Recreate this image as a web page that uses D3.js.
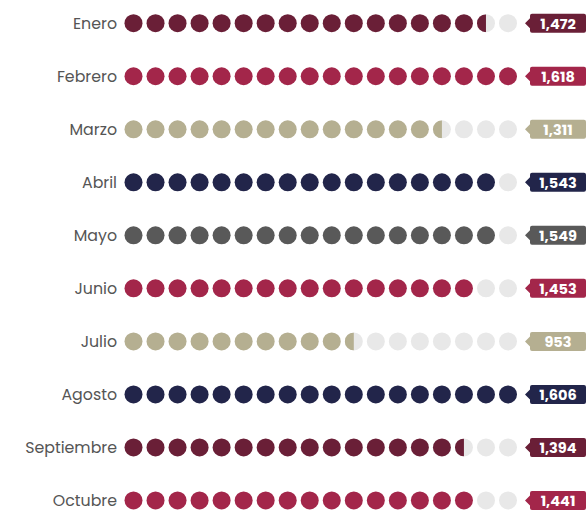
<!DOCTYPE html>
<html>
<head>
<meta charset="utf-8">
<script src="https://cdn.jsdelivr.net/npm/d3@7"></script>
<style>
html,body{margin:0;padding:0;background:#fff;}
svg{display:block;}
</style>
</head>
<body>
<svg id="chart" width="587" height="512"></svg>
<script>
const months = ["Enero","Febrero","Marzo","Abril","Mayo","Junio","Julio","Agosto","Septiembre","Octubre"];
const values = [1472,1618,1311,1543,1549,1453,953,1606,1394,1441];
const colors = ["#6a1f37","#a3264a","#b5af91","#22254a","#595959","#a3264a","#b5af91","#22254a","#6a1f37","#a3264a"];
const dotCount = 18;

const W = 587, H = 512;
const svg = d3.select("#chart");
const emptyColor = "#e8e8e8";
const r = 9;

const maxV = d3.max(values);
const unit = maxV / dotCount;

const y = d3.scaleBand().domain(months).range([-3.3, 527.0]).padding(0);
const x = d3.scalePoint().domain(d3.range(dotCount)).range([133.5, 508]);

const defs = svg.append("defs");

months.forEach((m, i) => {
  const cy = y(m) + y.bandwidth() / 2;
  const g = svg.append("g");
  const filled = Math.round(values[i] / unit * 2) / 2;

  g.append("text")
    .attr("x", 117).attr("y", cy)
    .attr("text-anchor", "end").attr("dominant-baseline", "central")
    .attr("font-family", "Poppins, 'Open Sans', sans-serif")
    .attr("font-size", 15.8).attr("fill", "#555")
    .text(m);

  d3.range(dotCount).forEach(k => {
    const cx = x(k);
    const frac = Math.max(0, Math.min(1, filled - k));
    if (frac >= 1) {
      g.append("circle").attr("cx", cx).attr("cy", cy).attr("r", r).attr("fill", colors[i]);
    } else if (frac <= 0) {
      g.append("circle").attr("cx", cx).attr("cy", cy).attr("r", r).attr("fill", emptyColor);
    } else {
      const id = "clip-" + i + "-" + k;
      defs.append("clipPath").attr("id", id)
        .append("rect").attr("x", cx - r).attr("y", cy - r).attr("width", 2 * r * frac).attr("height", 2 * r);
      g.append("circle").attr("cx", cx).attr("cy", cy).attr("r", r).attr("fill", emptyColor);
      g.append("circle").attr("cx", cx).attr("cy", cy).attr("r", r).attr("fill", colors[i]).attr("clip-path", "url(#" + id + ")");
    }
  });

  // badge
  const bx = 530, bw = 56, bh = 19, tip = 5;
  const top = cy - bh / 2;
  const path = `M${bx + 2},${top} H${bx + bw - 2} Q${bx + bw},${top} ${bx + bw},${top + 2} V${top + bh - 2} Q${bx + bw},${top + bh} ${bx + bw - 2},${top + bh} H${bx + 2} Q${bx},${top + bh} ${bx},${top + bh - 2} V${cy + tip} L${bx - tip},${cy} L${bx},${cy - tip} V${top + 2} Q${bx},${top} ${bx + 2},${top} Z`;
  g.append("path").attr("d", path).attr("fill", colors[i]);
  g.append("text")
    .attr("x", bx + bw / 2).attr("y", cy + 0.5)
    .attr("text-anchor", "middle").attr("dominant-baseline", "central")
    .attr("font-family", "Poppins, 'Open Sans', sans-serif")
    .attr("font-weight", 700).attr("font-size", 14.5).attr("fill", "#fff")
    .text(d3.format(",")(values[i]));
});
</script>
</body>
</html>
